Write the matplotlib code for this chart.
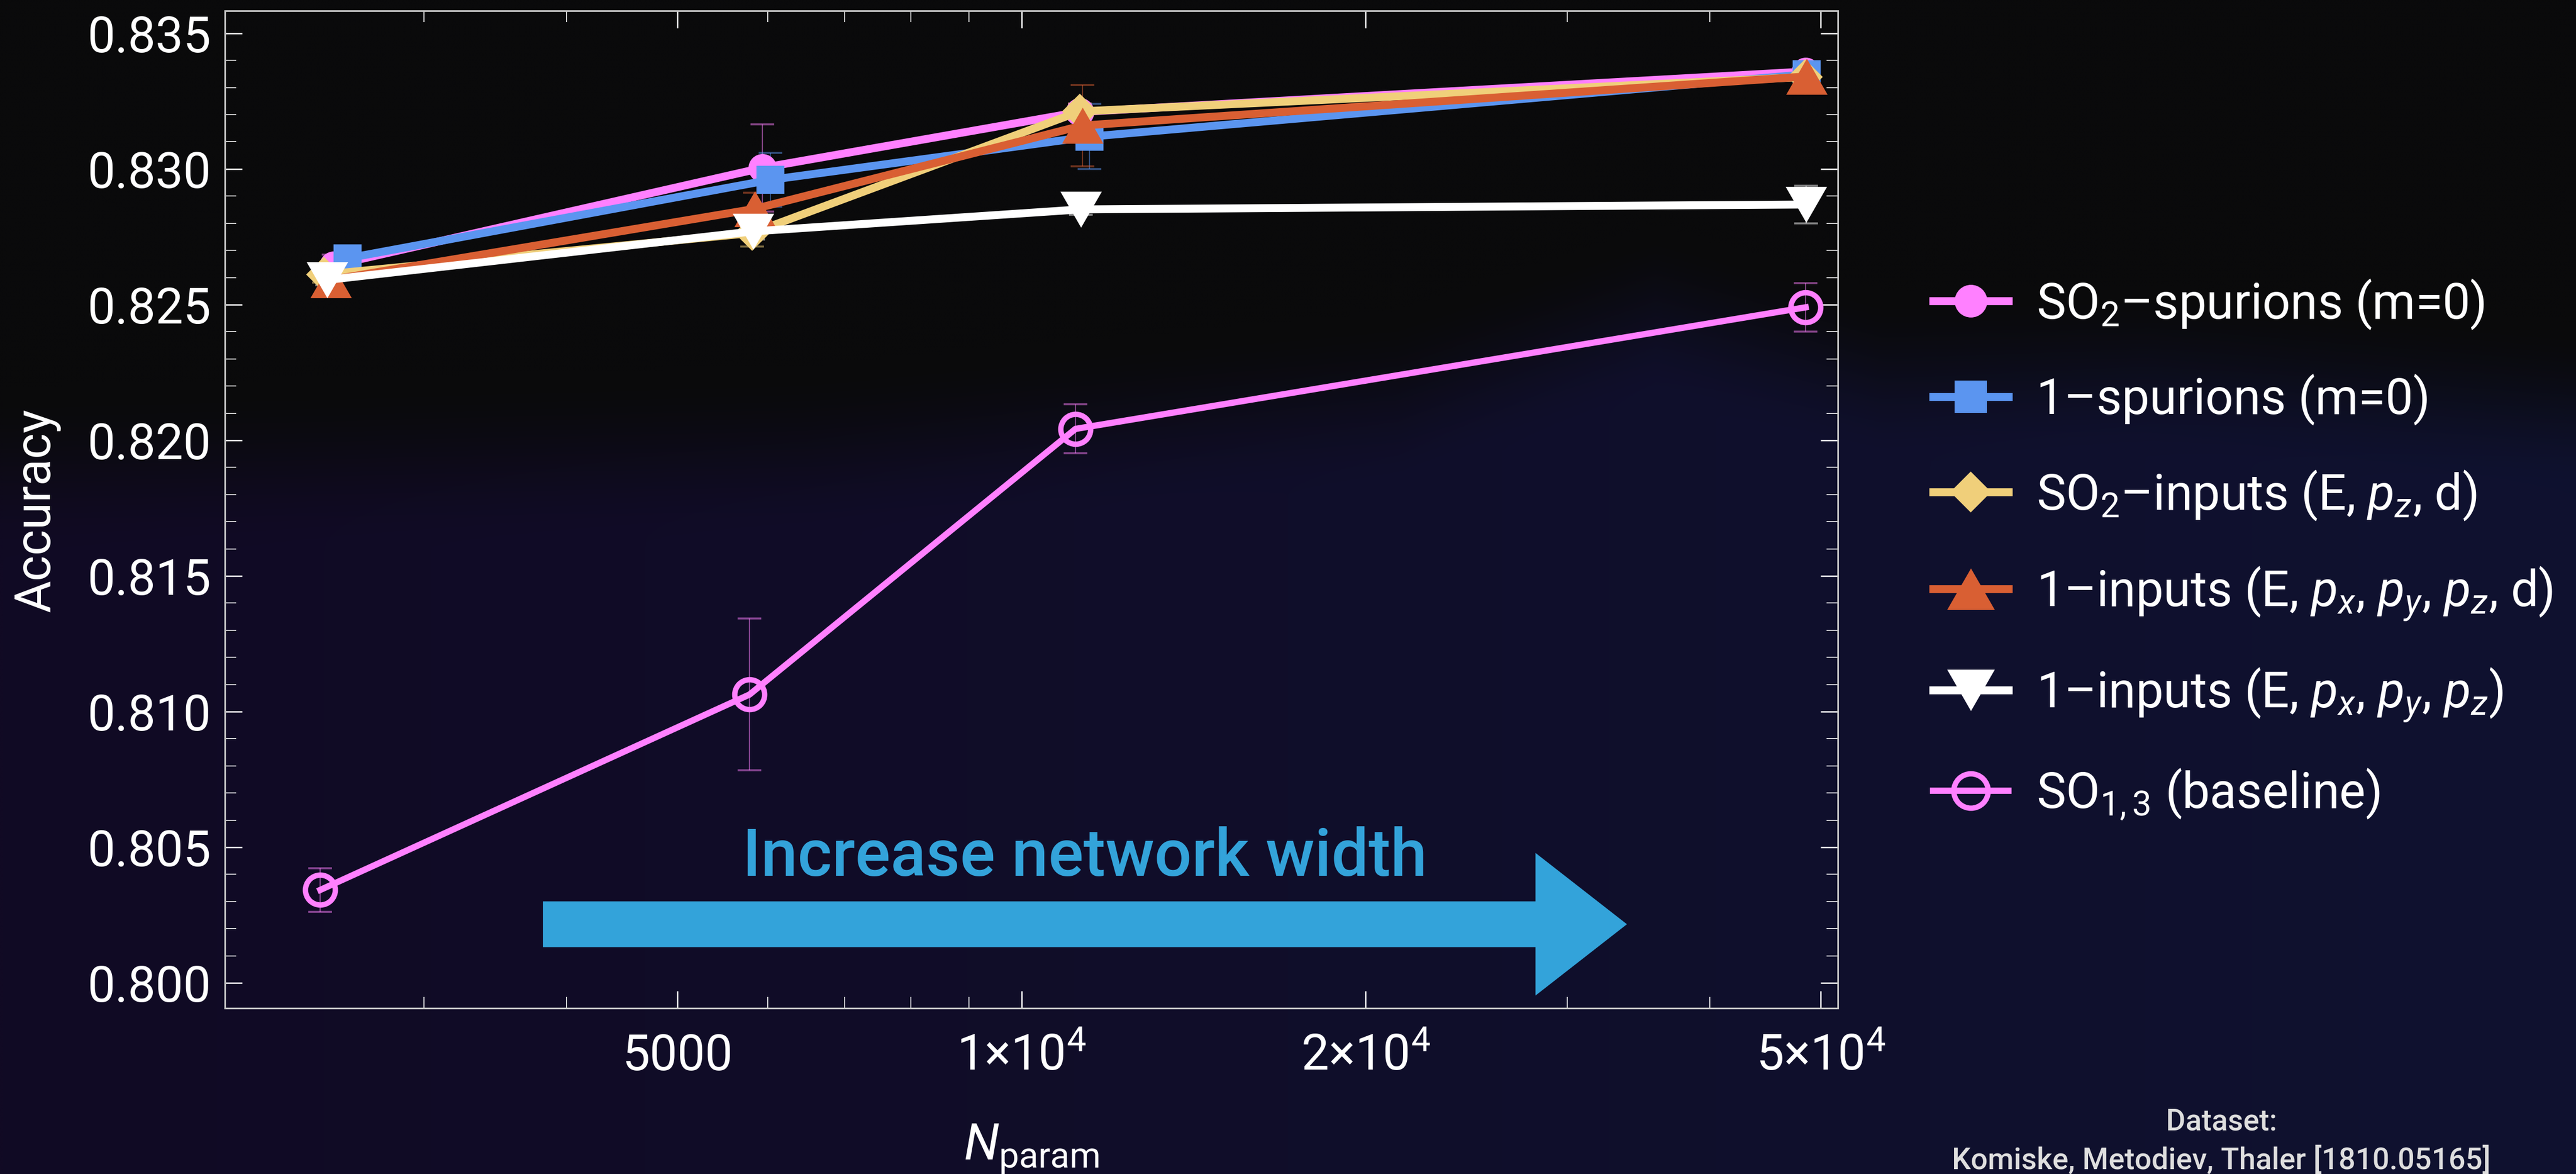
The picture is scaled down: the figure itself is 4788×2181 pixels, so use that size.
import numpy as np
import matplotlib.pyplot as plt
from matplotlib.patches import FancyArrow
from matplotlib.ticker import FixedLocator, NullFormatter, MultipleLocator, FormatStrFormatter

plt.rcParams['font.family'] = ['Roboto', 'DejaVu Sans']
plt.rcParams['mathtext.fontset'] = 'custom'
plt.rcParams['mathtext.rm'] = 'Roboto'
plt.rcParams['mathtext.it'] = 'Roboto:italic'
plt.rcParams['mathtext.bf'] = 'Roboto:bold'

# --- data ---
so2_spur_n = [2502, 5933, 11242, 48510]
so2_spur_acc = [0.82645, 0.83004, 0.83210, 0.83359]
so2_spur_err = [0.0004, 0.0016, 0.0003, 0.0002]

one_spur_n = [2573, 6033, 11463, 48620]
one_spur_acc = [0.82671, 0.82960, 0.83119, 0.83349]
one_spur_err = [0.0003, 0.0010, 0.0012, 0.0002]

so2_inp_n = [2454, 5814, 11242, 48460]
so2_inp_acc = [0.82611, 0.82764, 0.83212, 0.83339]
so2_inp_err = [0.0003, 0.0005, 0.0003, 0.0002]

one_inp_d_n = [2487, 5845, 11302, 48620]
one_inp_d_acc = [0.82591, 0.82853, 0.83160, 0.83341]
one_inp_d_err = [0.0003, 0.0006, 0.0015, 0.0002]

one_inp_n = [2469, 5826, 11272, 48570]
one_inp_acc = [0.82591, 0.82770, 0.82851, 0.82869]
one_inp_err = [0.0002, 0.0003, 0.0002, 0.0007]

base_n = [2436, 5782, 11148, 48510]
base_acc = [0.80343, 0.81063, 0.82042, 0.82490]
base_err = [0.0008, 0.0028, 0.0009, 0.0009]

labels = [
    'SO$_2$–spurions (m=0)',
    '1–spurions (m=0)',
    'SO$_2$–inputs (E, $p_z$, d)',
    '1–inputs (E, $p_x$, $p_y$, $p_z$, d)',
    '1–inputs (E, $p_x$, $p_y$, $p_z$)',
    'SO$_{1,3}$ (baseline)',
]
xtick_vals = [5000, 10000, 20000, 50000]
xtick_labels = ['5000', '1×10$^{4}$', '2×10$^{4}$', '5×10$^{4}$']
xminor_vals = [3000, 4000, 6000, 7000, 8000, 9000, 30000, 40000]

W, H = 4788, 2181
DPI = 200
fig = plt.figure(figsize=(W / DPI, H / DPI), dpi=DPI, facecolor='#0a0a0b')

# slide background: black on top, dark navy/purple below a soft wave
bg = fig.add_axes([0, 0, 1, 1], zorder=-10)
gx = np.linspace(0, W, 480)
gy = np.linspace(0, H, 220)
X, Y = np.meshgrid(gx, gy)
edge = np.interp(gx, [0, 1500, 2600, 3080, 3500, 4000, 4788], [880, 840, 740, 580, 700, 690, 760])
t = np.clip((Y - edge[None, :]) / 320 + 0.5, 0, 1)
t = t * t * (3 - 2 * t)
top_c = np.array([10, 10, 11]) / 255
lo_left = np.array([17, 10, 36]) / 255
lo_right = np.array([15, 18, 48]) / 255
h = (X / W)[..., None]
low = lo_left * (1 - h) + lo_right * h
img = top_c * (1 - t[..., None]) + low * t[..., None]
bg.imshow(img, extent=[0, 1, 0, 1], aspect='auto', interpolation='bilinear')
bg.axis('off')

ax = fig.add_axes([418 / W, 1 - 1873 / H, (3416 - 418) / W, (1873 - 20) / H])
ax.set_facecolor('none')

up_tri = [(0, 1), (-1.15, -1), (1.15, -1), (0, 1)]
down_tri = [(0, -1), (-1.15, 1), (1.15, 1), (0, -1)]

series = [
    (so2_spur_n, so2_spur_acc, so2_spur_err, '#ff80ff', 'o', 19),
    (one_spur_n, one_spur_acc, one_spur_err, '#5b95f0', 's', 18.7),
    (so2_inp_n, so2_inp_acc, so2_inp_err, '#f0cf7a', 'D', 17),
    (one_inp_d_n, one_inp_d_acc, one_inp_d_err, '#d95f33', up_tri, 27.7),
    (one_inp_n, one_inp_acc, one_inp_err, '#ffffff', down_tri, 27.7),
]

handles = []
for n, acc, err, col, mk, ms in series:
    ax.errorbar(n, acc, yerr=err, fmt='none', ecolor=col, alpha=0.5,
                elinewidth=0.8, capsize=8, capthick=1.3, zorder=2)
for n, acc, err, col, mk, ms in series:
    ln, = ax.plot(n, acc, color=col, lw=5.3, marker=mk, ms=ms, mew=0,
                  mfc=col, zorder=3)
    handles.append(ln)

ax.errorbar(base_n, base_acc, yerr=base_err, fmt='none', ecolor='#ff80ff', alpha=0.5,
            elinewidth=0.8, capsize=8, capthick=1.3, zorder=2)
ln, = ax.plot(base_n, base_acc, color='#ff80ff', lw=4.2, marker='o', ms=20,
              mfc='none', mec='#ff80ff', mew=3.6, zorder=3)
handles.append(ln)

ax.set_xscale('log')
ax.set_xlim(2010, 51760)
ax.set_ylim(0.79907, 0.83583)

ax.xaxis.set_major_locator(FixedLocator(xtick_vals))
ax.set_xticklabels(xtick_labels)
ax.xaxis.set_minor_locator(FixedLocator(xminor_vals))
ax.xaxis.set_minor_formatter(NullFormatter())
ax.yaxis.set_major_locator(MultipleLocator(0.005))
ax.yaxis.set_minor_locator(MultipleLocator(0.001))
ax.yaxis.set_major_formatter(FormatStrFormatter('%.3f'))

ax.tick_params(which='both', direction='in', top=True, right=True, colors='white',
               labelcolor='white', labelsize=33)
ax.tick_params(which='major', length=11.5, width=0.9)
ax.tick_params(which='minor', length=7.5, width=0.6)
ax.tick_params(axis='x', which='major', pad=41.4)
ax.tick_params(axis='y', which='major', pad=9)
for lbl in ax.get_xticklabels():
    lbl.set_va('baseline')
for sp in ax.spines.values():
    sp.set_color('#c8c8c8')
    sp.set_linewidth(1.1)

fig.text(68 / W, 1 - 948 / H, 'Accuracy', rotation=90, ha='center', va='center',
         fontsize=33, color='white')
fig.text(1917 / W, 1 - 2155 / H, r'$N_{\mathrm{param}}$', ha='center', va='baseline',
         fontsize=34, color='white')

# arrow + annotation
arrow = FancyArrow(1009 / W, 1 - 1717 / H, (3024 - 1009) / W, 0, width=85 / H,
                   head_width=265 / H, head_length=170 / W, length_includes_head=True,
                   transform=fig.transFigure, color='#33a3da', lw=0)
fig.add_artist(arrow)
fig.text(2016 / W, 1 - 1627 / H, 'Increase network width', ha='center', va='baseline',
         fontsize=44, color='#33a3da', fontweight='medium')

fig.legend(handles, labels, loc='upper left', bbox_to_anchor=(3593 / W, 1 - 515 / H),
           frameon=False, fontsize=33, handlelength=1.53, handletextpad=0.56,
           labelspacing=0.87, borderpad=0, borderaxespad=0, labelcolor='white',
           numpoints=1, markerscale=1.15)

fig.text(4129 / W, 1 - 2100 / H, 'Dataset:', ha='center', va='baseline',
         fontsize=20, color='#dedede', fontweight='medium')
fig.text(4129 / W, 1 - 2172 / H, 'Komiske, Metodiev, Thaler [1810.05165]', ha='center',
         va='baseline', fontsize=20, color='#dedede', fontweight='medium')

fig.savefig('out.png', dpi=DPI, facecolor=fig.get_facecolor())
